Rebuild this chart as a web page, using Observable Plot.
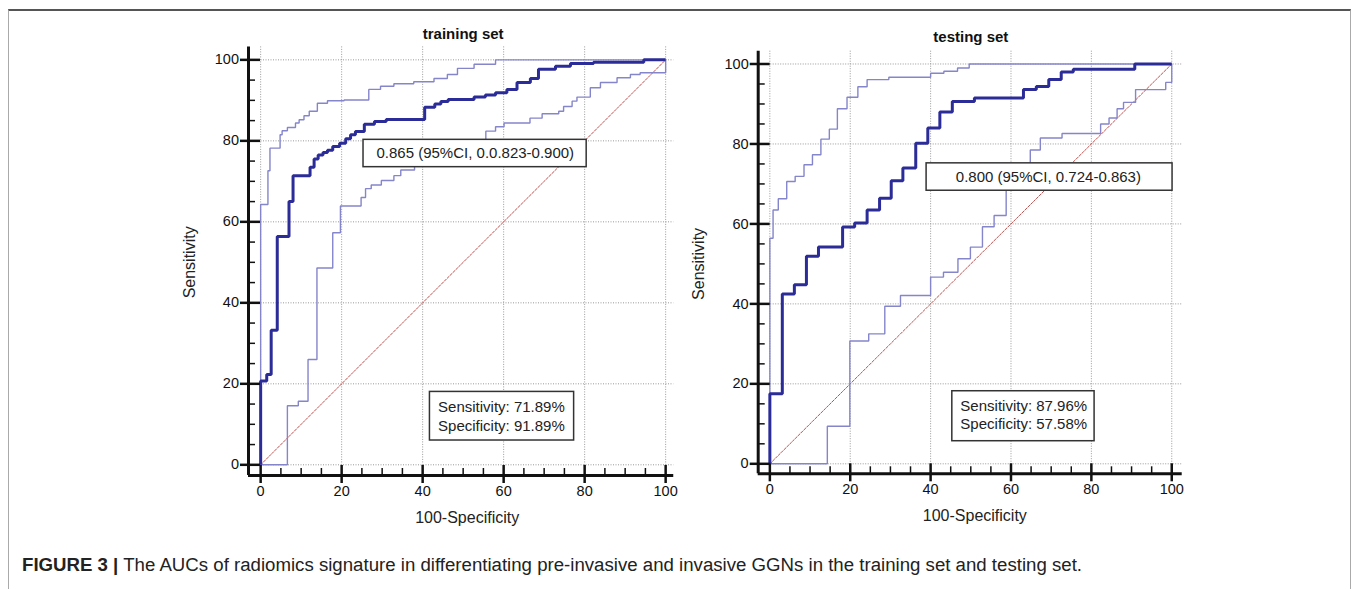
<!DOCTYPE html>
<html><head><meta charset="utf-8">
<script src="https://cdn.jsdelivr.net/npm/d3@7"></script>
<script src="https://cdn.jsdelivr.net/npm/@observablehq/plot@0.6"></script>
<style>
body{margin:0;background:#fff;width:1357px;height:589px;overflow:hidden;position:relative;font-family:Arial,"Liberation Sans",sans-serif;}
#frame{position:absolute;left:8px;top:9px;width:1341px;height:640px;border-top:2px solid #555;border-left:1px solid #aaa;border-right:1px solid #aaa;}
#left{position:absolute;left:160px;top:10px;}
#right{position:absolute;left:680px;top:10px;}
#caption{position:absolute;left:22px;top:555px;white-space:nowrap;font-family:"Liberation Sans","Arial",sans-serif;font-size:18px;color:#222;transform-origin:left center;}
#caption b{font-weight:bold;}
</style></head>
<body>
<div id="frame"></div>
<div id="left"></div>
<div id="right"></div>
<div id="caption"><b>FIGURE 3 |</b> The AUCs of radiomics signature in differentiating pre-invasive and invasive GGNs in the training set and testing set.</div>
<script>
// ---------- data ----------
const majorTicks = [0, 20, 40, 60, 80, 100];
const minorTicks = [5, 10, 15, 25, 30, 35, 45, 50, 55, 65, 70, 75, 85, 90, 95];
const diagX = [0, 100];
const diagY = [0, 100];

// training set ROC (100-Specificity, Sensitivity)
const trainFpr = [0, 0, 1.5, 2.6, 4.1, 7.0, 8.0, 12.2, 13.2, 14.2, 15.4, 16.5, 17.8, 19.5, 21.0, 22.2, 23.4, 25.6, 28.1, 31.0, 40.5, 43.0, 44.5, 46.3, 52.7, 55.5, 58.0, 60.8, 63.3, 66.6, 68.6, 72.8, 76.5, 82.2, 94.6, 100];
const trainTpr = [0, 20.7, 22.3, 33.2, 56.4, 65.0, 71.4, 73.5, 75.5, 76.5, 77.1, 77.7, 78.6, 79.4, 80.5, 81.5, 82.3, 84.1, 84.8, 85.3, 88.3, 89.1, 89.7, 90.2, 90.8, 91.3, 91.9, 92.7, 94.4, 95.4, 97.7, 98.4, 99.1, 99.4, 100, 100];
const trainUpFpr = [0, 0, 1.8, 2.3, 4.8, 5.3, 6.6, 8.6, 9.5, 10.7, 12.0, 14.0, 16.5, 20.6, 26.7, 29.6, 32.9, 37.8, 42.8, 46.1, 48.6, 52.7, 58.0, 100];
const trainUpTpr = [0, 64.3, 72.6, 78.2, 81.5, 82.5, 83.3, 84.4, 85.2, 86.2, 87.3, 89.3, 89.9, 90.1, 92.7, 93.5, 94.1, 94.6, 95.4, 96.4, 97.9, 98.9, 100, 100];
const trainLoFpr = [0, 6.6, 9.3, 11.7, 13.9, 17.8, 19.7, 24.8, 25.9, 27.3, 29.8, 32.9, 34.6, 38.0, 43.0, 48.0, 52.0, 55.6, 58.0, 60.1, 66.5, 69.5, 73.6, 74.8, 76.9, 78.1, 81.4, 83.9, 88.0, 91.3, 93.7, 100, 100];
const trainLoTpr = [0, 14.6, 15.7, 26.0, 48.6, 57.3, 63.9, 66.0, 68.2, 69.1, 70.2, 71.4, 72.8, 74.0, 76.0, 78.0, 79.5, 82.4, 83.5, 84.4, 85.6, 86.7, 87.3, 88.5, 89.8, 90.8, 93.1, 94.4, 95.6, 96.4, 96.8, 98.1, 100];

// testing set ROC
const testFpr = [0, 0, 3.1, 6.1, 9.1, 12.1, 18.1, 21.1, 24.2, 27.3, 30.2, 33.1, 36.3, 39.3, 42.3, 45.4, 50.9, 63.1, 66.3, 69.4, 72.5, 75.5, 90.8, 100];
const testTpr = [0, 17.5, 42.5, 44.8, 51.9, 54.2, 59.2, 60.2, 63.5, 66.4, 70.8, 74.0, 80.2, 84.0, 88.0, 90.6, 91.5, 93.6, 94.4, 96.1, 98.0, 98.7, 100, 100];
const testUpFpr = [0, 0, 0.8, 2.1, 4.2, 6.3, 8.5, 10.6, 12.7, 14.8, 16.8, 19.2, 21.9, 24.2, 29.6, 40.0, 43.3, 46.7, 49.6, 100];
const testUpTpr = [0, 56.4, 63.5, 66.3, 70.6, 71.9, 74.8, 77.3, 81.2, 83.7, 88.8, 91.7, 94.3, 96.1, 96.7, 97.7, 98.2, 99.0, 100, 100];
const testLoFpr = [0, 14.3, 19.9, 24.6, 28.6, 32.5, 40.0, 43.2, 46.8, 49.9, 52.9, 55.8, 58.8, 64.8, 67.3, 72.7, 82.3, 84.4, 86.4, 88.0, 91.0, 98.5, 100, 100];
const testLoTpr = [0, 9.4, 30.7, 32.5, 39.4, 42.1, 46.7, 47.9, 51.3, 54.2, 59.3, 62.1, 72.0, 78.5, 81.5, 82.6, 85.0, 86.5, 88.8, 90.4, 93.6, 95.4, 95.4, 100];

const titles = ["training set", "testing set"];
const aucTexts = ["0.865 (95%CI, 0.0.823-0.900)", "0.800 (95%CI, 0.724-0.863)"];
const sensTexts = ["Sensitivity: 71.89%\nSpecificity: 91.89%", "Sensitivity: 87.96%\nSpecificity: 57.58%"];
const xLabel = "100-Specificity";
const yLabel = "Sensitivity";

// ---------- layout ----------
const layouts = [
  {width: 540, height: 530, ml: 88, mr: 26.75, mt: 36.4, mb: 65, xDomain: [-3, 102], yDomain: [-2.64, 103.2], titleDy: -13,
   aucBox: {x1: 25.4, x2: 80.5, y1: 73.5, y2: 80.25, tx: 53.0, ty: 76.9},
   sensBox: {x1: 41.8, x2: 77.4, y1: 6.0, y2: 18.0, tx: 43.8, ty: 12.15}},
  {width: 540, height: 530, ml: 77.7, mr: 38.3, mt: 40.7, mb: 66.7, xDomain: [-2.9, 102.6], yDomain: [-2.5, 103.2], titleDy: -14,
   aucBox: {x1: 39.0, x2: 100.2, y1: 68.3, y2: 75.15, tx: 69.3, ty: 71.7},
   sensBox: {x1: 45.4, x2: 80.8, y1: 5.65, y2: 18.15, tx: 47.4, ty: 12.45}}
];

const mainColor = "#2c2c98";
const ciColor = "#8585cc";
const ink = "#111";

function pts(xs, ys) { return xs.map((x, i) => ({x, y: ys[i]})); }

function panel(L, title, main, up, lo, aucText, sensText) {
  const kx = (L.width - L.ml - L.mr) / (L.xDomain[1] - L.xDomain[0]);
  const ky = (L.height - L.mt - L.mb) / (L.yDomain[1] - L.yDomain[0]);
  const xLo = L.xDomain[0], yLo = L.yDomain[0];
  const lineOpts = {x: "x", y: "y", curve: "step-after", strokeLinejoin: "miter", strokeLinecap: "butt"};
  return Plot.plot({
    width: L.width, height: L.height,
    marginLeft: L.ml, marginRight: L.mr, marginTop: L.mt, marginBottom: L.mb,
    x: {domain: L.xDomain, axis: null},
    y: {domain: L.yDomain, axis: null},
    style: {fontFamily: "Arial, 'Liberation Sans', sans-serif", color: ink, background: "transparent", overflow: "visible"},
    marks: [
      Plot.ruleX(majorTicks, {x: d => d, stroke: "#999", strokeDasharray: "1,1.5", strokeWidth: 1}),
      Plot.ruleY(majorTicks, {y: d => d, stroke: "#999", strokeDasharray: "1,1.5", strokeWidth: 1}),
      Plot.line(pts(diagX, diagY), {x: "x", y: "y", stroke: "#c0504d", strokeDasharray: "2.5,1.5", strokeWidth: 1}),
      Plot.line(pts(lo[0], lo[1]), {...lineOpts, stroke: ciColor, strokeWidth: 1.4}),
      Plot.line(pts(up[0], up[1]), {...lineOpts, stroke: ciColor, strokeWidth: 1.4}),
      Plot.line(pts(main[0], main[1]), {...lineOpts, stroke: mainColor, strokeWidth: 3}),
      Plot.rect([L.aucBox], {x1: "x1", x2: "x2", y1: "y1", y2: "y2", fill: "white", stroke: "#333", strokeWidth: 1.5}),
      Plot.text([L.aucBox], {x: "tx", y: "ty", text: () => aucText, fontSize: 15, fill: "#222"}),
      Plot.rect([L.sensBox], {x1: "x1", x2: "x2", y1: "y1", y2: "y2", fill: "white", stroke: "#333", strokeWidth: 1.5}),
      Plot.text([L.sensBox], {x: "tx", y: "ty", text: () => sensText, textAnchor: "start", fontSize: 15, lineHeight: 1.22, fill: "#222"}),
      // axis lines
      Plot.ruleX([xLo], {x: d => d, stroke: ink, strokeWidth: 3}),
      Plot.ruleY([yLo], {y: d => d, stroke: ink, strokeWidth: 3}),
      // major ticks (crossing the axis line)
      Plot.ruleX(majorTicks, {x: d => d, y1: yLo - 8 / ky, y2: yLo + 10 / ky, stroke: ink, strokeWidth: 2.5}),
      Plot.ruleY(majorTicks, {y: d => d, x1: xLo - 8 / kx, x2: xLo + 12 / kx, stroke: ink, strokeWidth: 2.5}),
      // minor ticks (inward)
      Plot.ruleX(minorTicks, {x: d => d, y1: yLo, y2: yLo + 7 / ky, stroke: ink, strokeWidth: 1.5}),
      Plot.ruleY(minorTicks, {y: d => d, x1: xLo, x2: xLo + 7 / kx, stroke: ink, strokeWidth: 1.5}),
      // tick labels
      Plot.text(majorTicks, {x: d => d, frameAnchor: "bottom", lineAnchor: "top", dy: 10, text: d => String(d), fontSize: 14.5, fill: ink}),
      Plot.text(majorTicks, {y: d => d, frameAnchor: "left", textAnchor: "end", lineAnchor: "middle", dx: -9.5, text: d => String(d), fontSize: 14.5, fill: ink}),
      // title and axis labels
      Plot.text([title], {x: () => 50, frameAnchor: "top", lineAnchor: "middle", dy: L.titleDy, text: d => d, fontSize: 15, fontWeight: "bold", fill: ink}),
      Plot.text([xLabel], {x: () => 50, frameAnchor: "bottom", lineAnchor: "middle", dy: 42, dx: 4, text: d => d, fontSize: 16, fill: "#222"}),
      Plot.text([yLabel], {y: () => 50, frameAnchor: "left", textAnchor: "middle", lineAnchor: "middle", dx: -59, rotate: -90, text: d => d, fontSize: 16, fill: "#222"})
    ]
  });
}

document.getElementById("left").appendChild(panel(layouts[0], titles[0], [trainFpr, trainTpr], [trainUpFpr, trainUpTpr], [trainLoFpr, trainLoTpr], aucTexts[0], sensTexts[0]));
document.getElementById("right").appendChild(panel(layouts[1], titles[1], [testFpr, testTpr], [testUpFpr, testUpTpr], [testLoFpr, testLoTpr], aucTexts[1], sensTexts[1]));

const cap = document.getElementById("caption");
const w = cap.getBoundingClientRect().width;
cap.style.transform = `scaleX(${1060 / w})`;
</script>
</body></html>
